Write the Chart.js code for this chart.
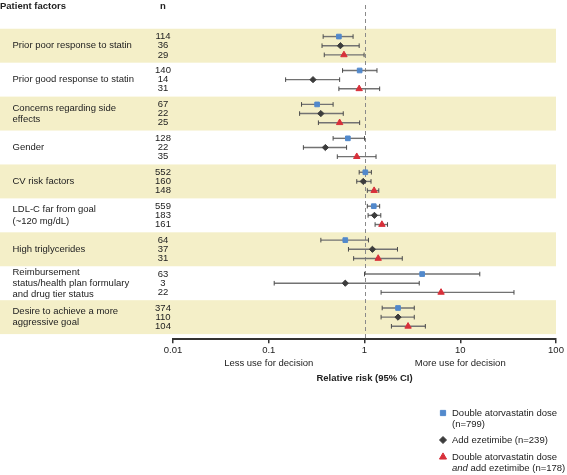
<!DOCTYPE html>
<html>
<head>
<meta charset="utf-8">
<script src="https://cdn.jsdelivr.net/npm/chart.js@4.4.1/dist/chart.umd.min.js"></script>
<style>
  html, body { margin: 0; padding: 0; background: #fff; }
  canvas { display: block; }
</style>
</head>
<body>
<canvas id="forest" width="567" height="475"></canvas>
<script>
// patient factors (rows, top to bottom)
var factors = [
  ["Prior poor response to statin"],
  ["Prior good response to statin"],
  ["Concerns regarding side", "effects"],
  ["Gender"],
  ["CV risk factors"],
  ["LDL-C far from goal", "(~120 mg/dL)"],
  ["High triglycerides"],
  ["Reimbursement", "status/health plan formulary", "and drug tier status"],
  ["Desire to achieve a more", "aggressive goal"]
];

// n per row
var nDouble    = [114, 140, 67, 128, 552, 559, 64, 63, 374];
var nEzetimibe = [36, 14, 22, 22, 160, 183, 37, 3, 110];
var nBoth      = [29, 31, 25, 35, 148, 161, 31, 22, 104];

// relative risk and 95% CI, double atorvastatin dose
var rrDouble = [0.54, 0.89, 0.32, 0.67, 1.02, 1.25, 0.63, 4.0, 2.24];
var loDouble = [0.37, 0.59, 0.22, 0.47, 0.88, 1.07, 0.35, 1.0, 1.53];
var hiDouble = [0.76, 1.35, 0.47, 1.0, 1.18, 1.44, 1.10, 16.0, 3.31];

// add ezetimibe
var rrEzetimibe = [0.56, 0.29, 0.35, 0.39, 0.97, 1.27, 1.21, 0.63, 2.24];
var loEzetimibe = [0.36, 0.15, 0.21, 0.23, 0.83, 1.09, 0.68, 0.114, 1.49];
var hiEzetimibe = [0.88, 0.55, 0.60, 0.65, 1.17, 1.48, 2.21, 3.73, 3.31];

// double atorvastatin dose and add ezetimibe
var rrBoth = [0.61, 0.88, 0.55, 0.83, 1.26, 1.52, 1.39, 6.3, 2.85];
var loBoth = [0.38, 0.54, 0.33, 0.52, 1.07, 1.29, 0.77, 1.49, 1.91];
var hiBoth = [0.99, 1.44, 0.89, 1.32, 1.41, 1.74, 2.48, 36.4, 4.32];

var tickValues = [0.01, 0.1, 1, 10, 100];
var tickLabels = ["0.01", "0.1", "1", "10", "100"];

var FONT = '"Liberation Sans", Arial, Helvetica, sans-serif';
var rowOffsets = [-0.27, 0, 0.27];   // vertical place of the 3 treatments inside a row

function points(values, k) {
  return values.map(function (v, r) { return { x: v, y: r + 0.5 + rowOffsets[k] }; });
}

// yellow bands, reference line at 1, CI whiskers
var backdrop = {
  id: "backdrop",
  beforeDatasetsDraw: function (chart) {
    var ctx = chart.ctx, xs = chart.scales.x, ys = chart.scales.y, area = chart.chartArea;
    ctx.save();
    ctx.fillStyle = "#f4efc8";
    for (var r = 0; r < factors.length; r += 2) {
      var top = ys.getPixelForValue(r), bot = ys.getPixelForValue(r + 1);
      ctx.fillRect(0, top, area.right, bot - top);
    }
    // dashed line at RR = 1
    var x1 = Math.round(xs.getPixelForValue(1)) + 0.5;
    ctx.strokeStyle = "#8a8a8a";
    ctx.lineWidth = 1;
    ctx.setLineDash([4, 3]);
    ctx.beginPath();
    ctx.moveTo(x1, area.top);
    ctx.lineTo(x1, area.bottom);
    ctx.stroke();
    ctx.setLineDash([]);

    chart.data.datasets.forEach(function (ds) {
      ds.data.forEach(function (p, j) {
        var y = ys.getPixelForValue(p.y);
        var a = xs.getPixelForValue(ds.ciLow[j]), b = xs.getPixelForValue(ds.ciHigh[j]);
        ctx.strokeStyle = "#727272";
        ctx.lineWidth = 1.4;
        ctx.beginPath();
        ctx.moveTo(a, y);
        ctx.lineTo(b, y);
        ctx.stroke();
        ctx.strokeStyle = "#4a4a4a";
        ctx.lineWidth = 1;
        ctx.beginPath();
        ctx.moveTo(a, y - 2.3); ctx.lineTo(a, y + 2.3);
        ctx.moveTo(b, y - 2.3); ctx.lineTo(b, y + 2.3);
        ctx.stroke();
      });
    });
    ctx.restore();
  }
};

// left table, axis notes, legend
var annotations = {
  id: "annotations",
  afterDraw: function (chart) {
    var ctx = chart.ctx, xs = chart.scales.x, ys = chart.scales.y, area = chart.chartArea;
    var nCols = [nDouble, nEzetimibe, nBoth];
    ctx.save();
    ctx.fillStyle = "#222";
    ctx.textBaseline = "middle";

    ctx.font = "bold 9.5px " + FONT;
    ctx.textAlign = "left";
    ctx.fillText("Patient factors", 0, 6);
    ctx.textAlign = "center";
    ctx.fillText("n", 163, 6);

    ctx.font = "9.5px " + FONT;
    factors.forEach(function (lines, r) {
      var cy = ys.getPixelForValue(r + 0.5);
      ctx.textAlign = "left";
      lines.forEach(function (t, k) {
        ctx.fillText(t, 12.5, cy + (k - (lines.length - 1) / 2) * 11.3);
      });
      ctx.textAlign = "center";
      nCols.forEach(function (col, k) {
        ctx.fillText(String(col[r]), 163, ys.getPixelForValue(r + 0.5 + rowOffsets[k]));
      });
    });

    ctx.textAlign = "center";
    ctx.fillText("Less use for decision", xs.getPixelForValue(0.1), area.bottom + 24);
    ctx.fillText("More use for decision", xs.getPixelForValue(10), area.bottom + 24);

    // legend
    var ds = chart.data.datasets;
    var items = [
      { d: ds[0], y: 413, lines: [["Double atorvastatin dose"], ["(n=799)"]] },
      { d: ds[1], y: 440, lines: [["Add ezetimibe (n=239)"]] },
      { d: ds[2], y: 457, lines: [["Double atorvastatin dose"], ["and", " add ezetimibe (n=178)"]] }
    ];
    items.forEach(function (it) {
      ctx.fillStyle = it.d.backgroundColor;
      ctx.strokeStyle = it.d.backgroundColor;
      Chart.helpers.drawPoint(ctx, {
        pointStyle: it.d.pointStyle, radius: it.d.pointRadius + 0.4, rotation: 0, borderWidth: 1
      }, 443, it.y);
      ctx.fillStyle = "#222";
      ctx.textAlign = "left";
      it.lines.forEach(function (parts, k) {
        var x = 452, y = it.y + k * 11.3;
        parts.forEach(function (p, m) {
          ctx.font = (parts.length > 1 && m === 0 ? "italic " : "") + "9.5px " + FONT;
          ctx.fillText(p, x, y);
          x += ctx.measureText(p).width;
        });
      });
    });
    ctx.restore();
  }
};

new Chart("forest", {
  type: "scatter",
  data: {
    datasets: [{
      label: "Double atorvastatin dose (n=799)",
      data: points(rrDouble, 0),
      ciLow: loDouble, ciHigh: hiDouble,
      backgroundColor: "#5289cc",
      borderColor: "#5289cc",
      pointStyle: "rect",
      pointRadius: 3.3,
      pointBorderWidth: 1
    }, {
      label: "Add ezetimibe (n=239)",
      data: points(rrEzetimibe, 1),
      ciLow: loEzetimibe, ciHigh: hiEzetimibe,
      backgroundColor: "#3c3c3c",
      borderColor: "#3c3c3c",
      pointStyle: "rectRot",
      pointRadius: 3.1,
      pointBorderWidth: 1
    }, {
      label: "Double atorvastatin dose and add ezetimibe (n=178)",
      data: points(rrBoth, 2),
      ciLow: loBoth, ciHigh: hiBoth,
      backgroundColor: "#d8303a",
      borderColor: "#d8303a",
      pointStyle: "triangle",
      pointRadius: 3.7,
      pointBorderWidth: 1
    }]
  },
  options: {
    responsive: false,
    animation: false,
    events: [],
    layout: { padding: { left: 173, right: 11, top: 0, bottom: 87 } },
    plugins: {
      legend: { display: false },
      tooltip: { enabled: false }
    },
    scales: {
      x: {
        type: "logarithmic",
        min: 0.01,
        max: 100,
        afterBuildTicks: function (scale) {
          scale.ticks = tickValues.map(function (v) { return { value: v }; });
        },
        ticks: {
          autoSkip: false,
          maxRotation: 0,
          padding: 1,
          color: "#222",
          font: { family: FONT, size: 9.5 },
          callback: function (value, index) { return tickLabels[index]; }
        },
        grid: { drawOnChartArea: false, tickLength: 4, color: "#333", lineWidth: 1.5 },
        border: { color: "#333", width: 2 },
        title: {
          display: true,
          text: "Relative risk (95% CI)",
          color: "#222",
          font: { family: FONT, size: 9.5, weight: "bold" },
          padding: { top: 16, bottom: 4 }
        }
      },
      y: {
        type: "linear",
        min: -0.7,
        max: 9.15,
        reverse: true,
        display: false
      }
    }
  },
  plugins: [backdrop, annotations]
});
</script>
</body>
</html>
